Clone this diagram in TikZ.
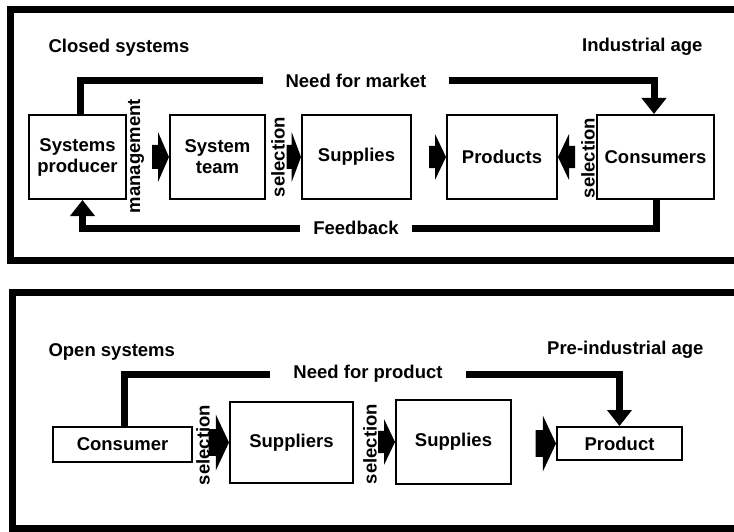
\documentclass[tikz,border=0pt]{standalone}
\usepackage{fontspec}
\setmainfont{Liberation Sans}
\usetikzlibrary{arrows.meta}

\tikzset{
  box/.style={draw, line width=2pt, inner sep=0pt, align=center},
  conn/.style={line width=7pt},
  connarrow/.style={conn, -{Triangle[width=24pt,length=16pt]}},
  frame/.style={line width=7pt},
  fatarrow/.pic={\fill (-17,-12) -- (-11,-12) -- (-11,-25) -- (0,0) -- (-11,25) -- (-11,12) -- (-17,12) -- cycle;}
}

\begin{document}
\begin{tikzpicture}[x=1pt,y=-1pt,font=\bfseries\fontsize{18.5}{21}\selectfont]
\useasboundingbox (0,0) rectangle (734,532);

% closed systems
\draw[frame] (734,10) -| (10,260) -- (734,260);
\node[anchor=west] (closed) at (45,48) {Closed systems};
\node[anchor=east] (industrial) at (706,47) {Industrial age};

\node[box, minimum width=97pt, minimum height=84pt] (producer) at (77.5,157) {Systems\\producer};
\node[box, minimum width=95pt, minimum height=84pt] (team) at (217.5,157) {System\\team};
\node[box, minimum width=109pt, minimum height=84pt] (supplies) at (356.5,157) {Supplies};
\node[box, minimum width=110pt, minimum height=84pt] (products) at (502,157) {Products};
\node[box, minimum width=117pt, minimum height=84pt] (consumers) at (655.5,157) {Consumers};

\node[rotate=90] (management) at (136,156) {management};
\node[rotate=90] (selteam) at (278,157) {selection};
\node[rotate=90] (selcons) at (588,158) {selection};

\pic at (team.west) {fatarrow};
\pic[xscale=0.85] at (supplies.west) {fatarrow};
\pic[yscale=0.92] at (products.west) {fatarrow};
\pic[xscale=-1,yscale=0.92] at (products.east) {fatarrow};

\node[inner xsep=22pt] (needmarket) at (356,81) {Need for market};
\node[inner xsep=13pt] (feedback) at (356,228) {Feedback};
\draw[conn] ([xshift=2.5pt]producer.north) |- (needmarket.west);
\draw[connarrow] (needmarket.east) -| ([xshift=-1.5pt]consumers.north);
\draw[conn] ([xshift=0.5pt]consumers.south) |- (feedback.east);
\draw[connarrow] (feedback.west) -| ([xshift=5pt]producer.south);

% open systems
\draw[frame] (734,292) -| (12,528) -- (734,528);
\node[anchor=west] (open) at (45,352) {Open systems};
\node[anchor=east] (preindustrial) at (707,350) {Pre-industrial age};

\node[box, minimum width=139pt, minimum height=35pt] (consumer) at (122.5,444.5) {Consumer};
\node[box, minimum width=123pt, minimum height=81pt] (suppliers) at (291.5,442.5) {Suppliers};
\node[box, minimum width=115pt, minimum height=84pt] (supplies2) at (453.5,442) {Supplies};
\node[box, minimum width=125pt, minimum height=33pt] (product) at (619.5,443.5) {Product};

\node[rotate=90] (selsuppliers) at (203,445) {selection};
\node[rotate=90] (selsupplies) at (370,444) {selection};

\pic[xscale=1.2,yscale=1.12] at (suppliers.west) {fatarrow};
\pic[yscale=0.92] at (supplies2.west) {fatarrow};
\pic[xscale=1.2,yscale=1.12] at (product.west) {fatarrow};

\node[inner xsep=23pt] (needproduct) at (368,374) {Need for product};
\draw[conn] ([xshift=1.5pt]consumer.north) |- (needproduct.west);
\draw[connarrow] (needproduct.east) -| (product.north);
\end{tikzpicture}
\end{document}
